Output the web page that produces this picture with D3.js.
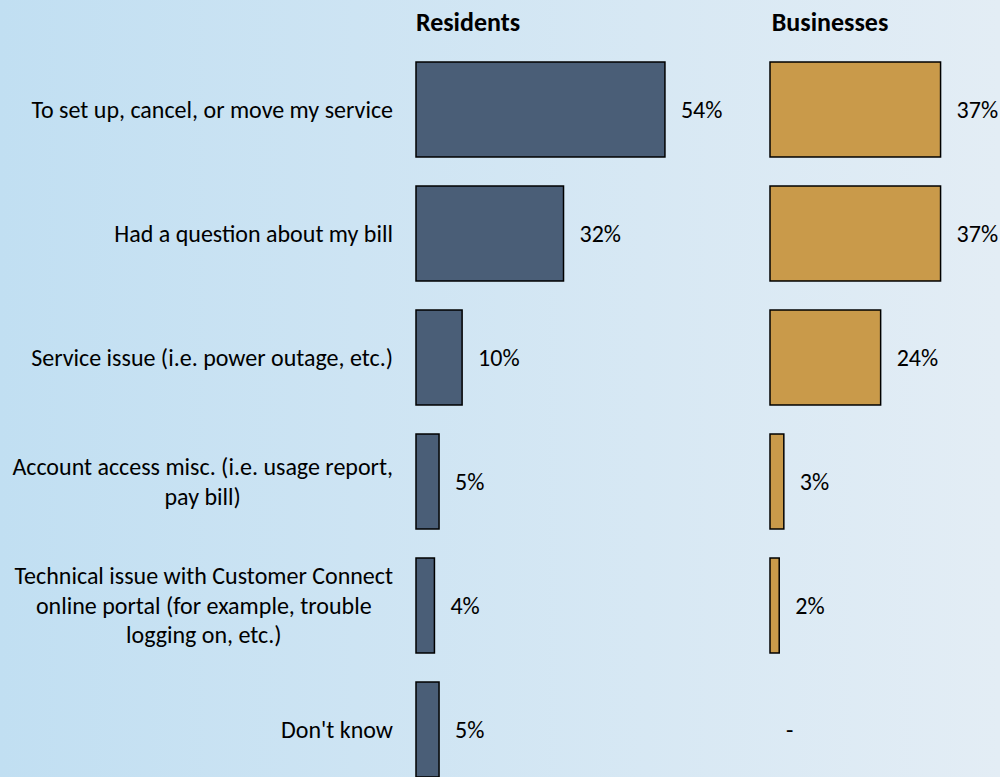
<!DOCTYPE html>
<html>
<head>
<meta charset="utf-8">
<script src="https://cdn.jsdelivr.net/npm/d3@7"></script>
<style>
  html, body { margin: 0; padding: 0; }
  svg { display: block; font-family: Carlito, Lato, "Open Sans", sans-serif; }
  .cat { font-size: 24px; fill: #000; }
  .val { font-size: 24px; fill: #000; }
  .title { font-size: 26px; font-weight: bold; fill: #000; }
</style>
</head>
<body>
<div id="chart"></div>
<script>
var categories = [
  ['To set up, cancel, or move my service'],
  ['Had a question about my bill'],
  ['Service issue (i.e. power outage, etc.)'],
  ['Account access misc. (i.e. usage report,', 'pay bill)'],
  ['Technical issue with Customer Connect', 'online portal (for example, trouble', 'logging on, etc.)'],
  ["Don't know"]
];
var residents = [54, 32, 10, 5, 4, 5];
var businesses = [37, 37, 24, 3, 2, null];
var panelTitles = ['Residents', 'Businesses'];

var w = 1000, h = 777;

var svg = d3.select('#chart').append('svg')
  .attr('width', w)
  .attr('height', h);

// background gradient
var grad = svg.append('defs').append('linearGradient')
  .attr('id', 'bg')
  .attr('x1', '0%').attr('x2', '100%').attr('y1', '0%').attr('y2', '0%');
grad.append('stop').attr('offset', '0%').attr('stop-color', '#c1dff2');
grad.append('stop').attr('offset', '100%').attr('stop-color', '#e3edf5');
svg.append('rect').attr('width', w).attr('height', h).attr('fill', 'url(#bg)');

// y scale
var idx = d3.range(categories.length);
var y = d3.scaleBand()
  .domain(idx)
  .range([47.5, 791.5])
  .paddingInner(0.234)
  .paddingOuter(0.117);

// x scales, one per panel
var pxPerPct = 4.61;
var xRes = d3.scaleLinear().domain([0, 100]).range([416, 416 + 100 * pxPerPct]);
var xBus = d3.scaleLinear().domain([0, 100]).range([770, 770 + 100 * pxPerPct]);

var panels = [
  { data: residents, x: xRes, color: '#4a5e77', titleX: 468 },
  { data: businesses, x: xBus, color: '#c99a4a', titleX: 830 }
];

// category labels (block right aligned, lines centered)
var lineH = 29.5;
idx.forEach(function(i) {
  var lines = categories[i];
  var g = svg.append('g');
  var texts = g.selectAll('text').data(lines).enter().append('text')
    .attr('class', 'cat')
    .attr('dy', '0.35em')
    .attr('y', function(d, j) { return y(i) + y.bandwidth() / 2 + (j - (lines.length - 1) / 2) * lineH; })
    .text(function(d) { return d; });
  var maxW = d3.max(texts.nodes(), function(n) { return n.getComputedTextLength(); });
  var right = 393;
  if (lines.length === 1) {
    texts.attr('x', right).attr('text-anchor', 'end');
  } else {
    texts.attr('x', right - maxW / 2).attr('text-anchor', 'middle');
  }
});

// bars and values
panels.forEach(function(p, k) {
  var g = svg.append('g');
  g.append('text')
    .attr('class', 'title')
    .attr('x', p.titleX)
    .attr('y', 22)
    .attr('dy', '0.35em')
    .attr('text-anchor', 'middle')
    .text(panelTitles[k]);

  g.selectAll('rect.bar').data(idx.filter(function(i) { return p.data[i] != null; }))
    .enter().append('rect')
    .attr('class', 'bar')
    .attr('x', p.x(0))
    .attr('y', function(i) { return y(i); })
    .attr('width', function(i) { return p.x(p.data[i]) - p.x(0); })
    .attr('height', y.bandwidth())
    .attr('fill', p.color)
    .attr('stroke', '#000')
    .attr('stroke-width', 1.5);

  g.selectAll('text.val').data(idx)
    .enter().append('text')
    .attr('class', 'val')
    .attr('x', function(i) { return p.x(p.data[i] == null ? 0 : p.data[i]) + 16; })
    .attr('y', function(i) { return y(i) + y.bandwidth() / 2; })
    .attr('dy', '0.35em')
    .text(function(i) { return p.data[i] == null ? '-' : p.data[i] + '%'; });
});
</script>
</body>
</html>
